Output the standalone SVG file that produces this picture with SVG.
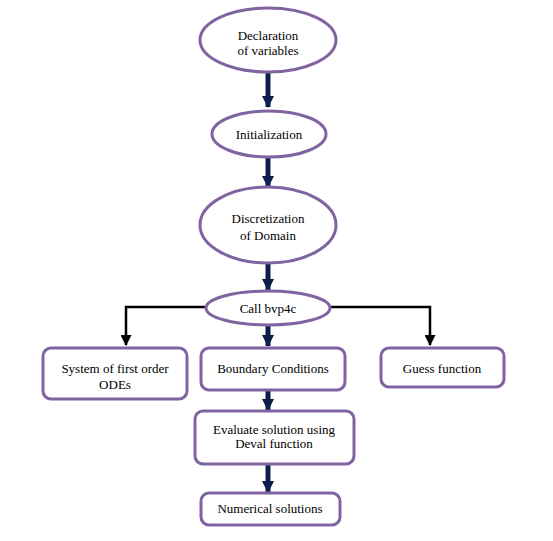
<svg xmlns="http://www.w3.org/2000/svg" width="553" height="541" viewBox="0 0 553 541">
<style>
.n{fill:#fff;stroke:#8064a2;stroke-width:3}
.t{font-family:"Liberation Serif","Times New Roman",serif;font-size:13px;fill:#000;text-anchor:middle}
.a{stroke:#0d1e4c;stroke-width:5;fill:none}
.b{stroke:#000;stroke-width:2.5;fill:none}
</style>
<defs>
<marker id="hb" markerUnits="userSpaceOnUse" markerWidth="11" markerHeight="11" refX="10" refY="5.5" orient="auto" viewBox="0 0 11 11">
<path d="M0,0 L11,5.5 L0,11 Z" fill="#000"/>
</marker>
<marker id="hn" markerUnits="userSpaceOnUse" markerWidth="12" markerHeight="12" refX="11" refY="6" orient="auto" viewBox="0 0 12 12">
<path d="M0,0 L12,6 L0,12 Z" fill="#0d1e4c"/>
</marker>
</defs>
<g id="connectors">
<line class="a" x1="268" y1="72" x2="268" y2="107" marker-end="url(#hn)"/>
<line class="a" x1="268" y1="157" x2="268" y2="187" marker-end="url(#hn)"/>
<line class="a" x1="268" y1="263" x2="268" y2="290" marker-end="url(#hn)"/>
<line class="a" x1="268" y1="325" x2="268" y2="346" marker-end="url(#hn)"/>
<line class="a" x1="268" y1="390" x2="268" y2="410" marker-end="url(#hn)"/>
<line class="a" x1="268" y1="464" x2="268" y2="492" marker-end="url(#hn)"/>
<polyline class="b" points="207,307 126,307 126,345" marker-end="url(#hb)"/>
<polyline class="b" points="329,307 430,307 430,345" marker-end="url(#hb)"/>
</g>
<g id="decl"><ellipse class="n" cx="268" cy="40" rx="68" ry="32"/><text class="t" x="268" y="40">Declaration</text><text class="t" x="268" y="55">of variables</text></g>
<g id="init"><ellipse class="n" cx="269" cy="134" rx="57" ry="23"/><text class="t" x="269" y="139">Initialization</text></g>
<g id="disc"><ellipse class="n" cx="268" cy="225" rx="68" ry="38"/><text class="t" x="268" y="223">Discretization</text><text class="t" x="268" y="240">of Domain</text></g>
<g id="call"><ellipse class="n" cx="268" cy="308" rx="62" ry="17"/><text class="t" x="268" y="313">Call bvp4c</text></g>
<g id="sys"><rect class="n" x="43" y="348" width="144" height="51" rx="8"/><text class="t" x="115" y="373">System of first order</text><text class="t" x="115" y="389">ODEs</text></g>
<g id="bc"><rect class="n" x="201" y="348" width="144" height="42" rx="8"/><text class="t" x="273" y="373">Boundary Conditions</text></g>
<g id="guess"><rect class="n" x="381" y="348" width="123" height="39" rx="8"/><text class="t" x="442" y="373">Guess function</text></g>
<g id="eval"><rect class="n" x="195" y="411" width="159" height="53" rx="8"/><text class="t" x="274" y="434">Evaluate solution using</text><text class="t" x="274" y="448">Deval function</text></g>
<g id="num"><rect class="n" x="201" y="493" width="139" height="32" rx="8"/><text class="t" x="270" y="513">Numerical solutions</text></g>
</svg>
